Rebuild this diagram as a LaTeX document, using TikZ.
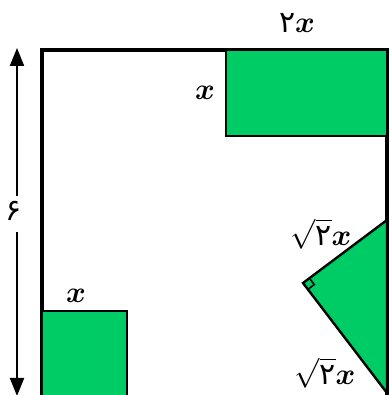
\documentclass[tikz,border=0pt]{standalone}
\usepackage{fontspec}
\usepackage{amsmath,bm}
\usetikzlibrary{arrows.meta,calc}
\newfontfamily\arabicfont[Script=Arabic]{DejaVu Sans}
\definecolor{fillgreen}{RGB}{0,204,102}
\begin{document}
\begin{tikzpicture}[x=1pt,y=1pt,
  shaded/.style={fill=fillgreen,draw=black,line width=2.4pt,line join=miter},
  lbl/.style={inner sep=0pt,scale=3.0,transform shape},
  dimarrow/.style={line width=2pt,-{Triangle[width=14pt,length=18pt]}}]
\useasboundingbox (0,0) rectangle (389,395);
\clip (0,0) rectangle (389,395);
% frame
\draw[line width=3.5pt,line join=miter] (42,-10) -- (42,345) -- (387,345) -- (387,-10);
% top rectangle
\draw[shaded] (226,259) rectangle (387,345);
% bottom-left square
\draw[shaded] (42,-10) rectangle (127,84);
% triangle
\coordinate (A) at (303,112);
\coordinate (T) at (387,175);
\coordinate (B) at (387,2);
\draw[shaded] (A) -- (T) -- (B) -- cycle;
\draw[line width=1.6pt] ($(A)+(6.4,4.8)$) -- ++(4.86,-6.36) -- ++(-6.4,-4.8);
% labels
\node[lbl] (l2x) at (297,372) {{\arabicfont ۲}$\bm{x}$};
\node[lbl] (lx1) at (205,302) {$\bm{x}$};
\node[lbl] (lx2) at (76,99) {$\bm{x}$};
\node[lbl] (ls1) at (321,161) {$\sqrt{\mbox{\arabicfont ۲}}\bm{x}$};
\node[lbl] (ls2) at (325,22) {$\sqrt{\mbox{\arabicfont ۲}}\bm{x}$};
% dimension arrow
\node[lbl] (six) at (14,184) {\arabicfont ۶};
\coordinate (atop) at (17,347);
\coordinate (abot) at (17,-1);
\draw[dimarrow] (17,199) -- (atop);
\draw[dimarrow] (17,163) -- (abot);
\end{tikzpicture}
\end{document}
